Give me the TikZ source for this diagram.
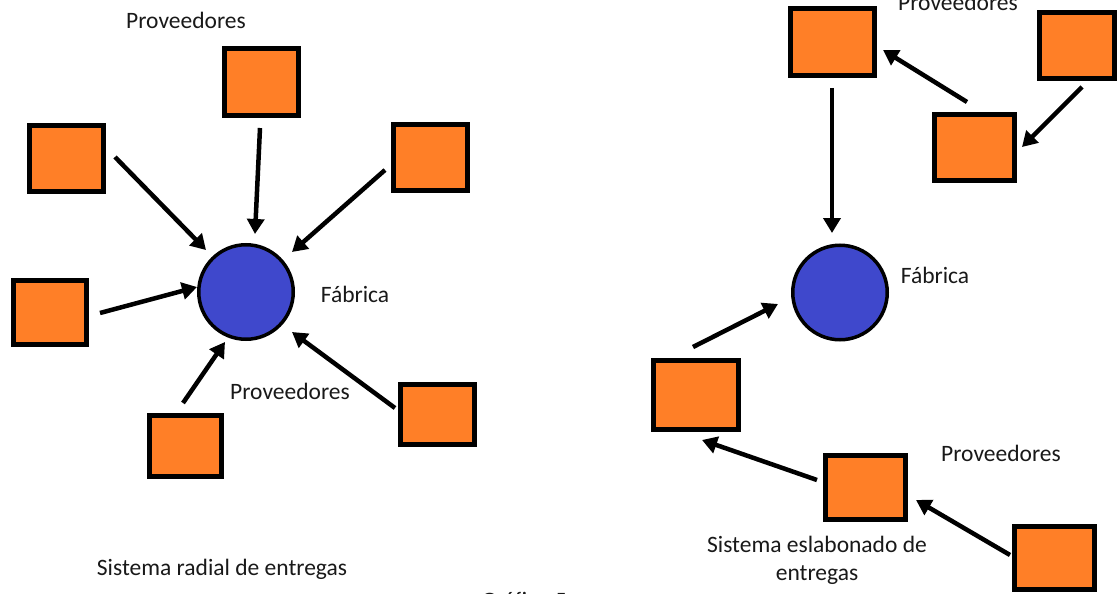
\documentclass[tikz,border=0pt]{standalone}
\usepackage{fontspec}
\setmainfont{Carlito}
\usetikzlibrary{arrows.meta}
\definecolor{boxorange}{RGB}{255,127,39}
\definecolor{plantblue}{RGB}{63,72,204}
\definecolor{inktext}{RGB}{25,25,25}
\begin{document}
\begin{tikzpicture}[x=1pt,y=-1pt,
  supplier/.style 2 args={draw=black, line width=5pt, fill=boxorange, inner sep=0pt,
    minimum width=#1pt, minimum height=#2pt},
  plant/.style={circle, draw=black, line width=3.5pt, fill=plantblue,
    minimum size=94.5pt, inner sep=0pt},
  flow/.style={line width=4.5pt, -{Triangle[length=15pt,width=17pt]}},
  txt/.style={font=\fontsize{23.5}{28}\selectfont, text=inktext, inner sep=0pt, anchor=base}]
\useasboundingbox (0,0) rectangle (1120,594);
\fill[white] (0,0) rectangle (1120,594);
\clip (0,0) rectangle (1120,594);

% ---- radial delivery system ----
\node[plant] (F1) at (246,292) {};
\node[supplier={74}{67}] (sT) at (261.5,82) {};
\node[supplier={74}{66}] (sA) at (66.5,158.5) {};
\node[supplier={73}{64}] (sB) at (50,312.5) {};
\node[supplier={74}{66}] (sC) at (430.5,157.5) {};
\node[supplier={72}{61}] (sD) at (185.5,446) {};
\node[supplier={74}{60}] (sE) at (437.5,414.5) {};

\draw[flow] ([shift={(-1.5,46)}]sT.center) -- ([shift={(9,-58)}]F1.center);
\draw[flow] ([shift={(48.5,-1.5)}]sA.center) -- ([shift={(-40,-42)}]F1.center);
\draw[flow] ([shift={(50,0.5)}]sB.center) -- ([shift={(-49,-5)}]F1.center);
\draw[flow] ([shift={(-45.5,12.5)}]sC.center) -- ([shift={(46,-40)}]F1.center);
\draw[flow] ([shift={(-2.5,-43)}]sD.center) -- ([shift={(-21,50)}]F1.center);
\draw[flow] ([shift={(-42.5,-6.5)}]sE.center) -- ([shift={(46,40)}]F1.center);

\node[txt] (p1) at (186,29) {Proveedores};
\node[txt] (f1) at (355,302) {Fábrica};
\node[txt] (p2) at (290,399) {Proveedores};
\node[txt] (c1) at (222,575) {Sistema radial de entregas};
\node[txt] (g5) at (524,608) {Gráfico 5};

% ---- linked delivery system ----
\node[plant] (F2) at (840,292.5) {};
\node[supplier={84}{67}] (rA) at (832.5,42) {};
\node[supplier={75}{66}] (rB) at (1077,45.5) {};
\node[supplier={80}{66}] (rC) at (974.5,147.5) {};
\node[supplier={85}{69}] (rD) at (696,395) {};
\node[supplier={80}{64}] (rE) at (865.5,487.5) {};
\node[supplier={80}{63}] (rF) at (1054.5,558) {};

\draw[flow] ([shift={(-0.5,46)}]rA.center) -- ([shift={(-8,-59.5)}]F2.center);
\draw[flow] ([shift={(-7.5,-45.5)}]rC.center) -- ([shift={(50.5,8)}]rA.center);
\draw[flow] ([shift={(5,41.5)}]rB.center) -- ([shift={(47.5,-0.5)}]rC.center);
\draw[flow] ([shift={(-3,-48)}]rD.center) -- ([shift={(-62,11.5)}]F2.center);
\draw[flow] ([shift={(-48.5,-7.5)}]rE.center) -- ([shift={(6,45)}]rD.center);
\draw[flow] ([shift={(-44.5,-3)}]rF.center) -- ([shift={(50.5,12.5)}]rE.center);

\node[txt] (p3) at (958,11) {Proveedores};
\node[txt] (f2) at (935,283) {Fábrica};
\node[txt] (p4) at (1001,461) {Proveedores};
\node[txt, align=center] (c2) at (817,580) {Sistema eslabonado de\\entregas};
\end{tikzpicture}
\end{document}
